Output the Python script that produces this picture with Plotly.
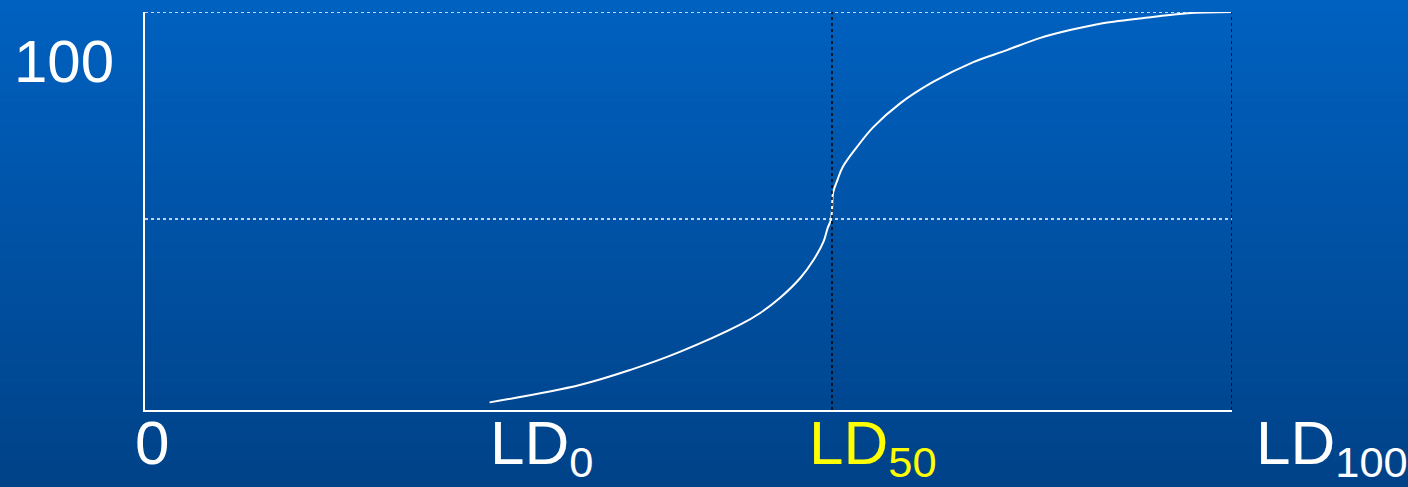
import plotly.graph_objects as go

# ---- data ----
dose = [31.7, 40.0, 44.6, 49.2, 54.7, 56.6, 58.4, 60.3, 61.5, 62.4, 62.8,
        63.1, 63.2, 63.3, 63.7, 64.2, 65.5, 67.0, 69.5, 72.5, 76.2, 79.3,
        82.3, 85.2, 88.1, 92.7, 95.9, 100.0]
mortality = [5.7, 9.9, 13.5, 17.9, 24.4, 27.3, 30.9, 35.8, 40.1, 44.4, 47.8,
             49.8, 52.2, 56.3, 59.4, 62.6, 67.4, 72.2, 78.0, 83.1, 87.9, 90.8,
             93.7, 95.7, 97.3, 98.8, 99.7, 100.0]

tick_values = [0, 31.7, 63.2, 100.0]
tick_labels = ["0", "LD<sub>0</sub>", "LD<sub>50</sub>", "LD<sub>100</sub>"]
tick_colors = ["white", "white", "#FFFF00", "white"]
y_label_value = 100
y_label = "100"
half_level = 50

W, H = 1408, 487
x_px = (145, 1232)
y_px = (12, 410)
y_min = 3.86

fig = go.Figure()

# gradient background
top = (0, 97, 192)
bot = (0, 66, 136)
n = 80
for i in range(n):
    t = i / (n - 1)
    c = tuple(round(top[k] + (bot[k] - top[k]) * t) for k in range(3))
    fig.add_shape(type="rect", xref="paper", yref="paper",
                  x0=0, x1=1, y0=1 - (i + 1) / n, y1=1 - i / n + 0.002,
                  fillcolor="rgb(%d,%d,%d)" % c, line_width=0, layer="below")

fig.add_trace(go.Scatter(x=dose, y=mortality, mode="lines",
                         line=dict(color="white", width=2, shape="spline", smoothing=1.0),
                         hoverinfo="skip", showlegend=False))

# reference lines
for yv in (half_level, y_label_value):
    fig.add_shape(type="line", xref="x", yref="y", x0=0, x1=tick_values[-1],
                  y0=yv, y1=yv, line=dict(color="white", width=1.5, dash="dot"))
for xv in (tick_values[2], tick_values[3]):
    fig.add_shape(type="line", xref="x", yref="y", x0=xv, x1=xv,
                  y0=y_min, y1=y_label_value, line=dict(color="black", width=1.5, dash="dot"))

# tick labels
shifts = [7, -2, -25, 22]
for i, (v, lab, col) in enumerate(zip(tick_values, tick_labels, tick_colors)):
    fig.add_annotation(x=v, y=y_min, xref="x", yref="y",
                       xanchor="center" if i == 0 else "left", yanchor="top",
                       xshift=shifts[i], yshift=4,
                       text=lab, showarrow=False,
                       font=dict(family="Liberation Sans, Arial", size=62, color=col))
fig.add_annotation(x=0, y=y_label_value, xref="paper", yref="y",
                   xanchor="left", yanchor="middle", xshift=12, yshift=-49,
                   text=y_label, showarrow=False,
                   font=dict(family="Liberation Sans, Arial", size=60, color="white"))

fig.update_layout(
    width=W, height=H,
    margin=dict(l=0, r=0, t=0, b=0),
    paper_bgcolor="rgb(0,66,136)",
    plot_bgcolor="rgba(0,0,0,0)",
    xaxis=dict(domain=[x_px[0] / W, x_px[1] / W], range=[0, 100],
               showgrid=False, zeroline=False, showticklabels=False, ticks="",
               showline=True, linecolor="white", linewidth=2, mirror=False),
    yaxis=dict(domain=[(H - y_px[1]) / H, (H - y_px[0]) / H], range=[y_min, 100],
               showgrid=False, zeroline=False, showticklabels=False, ticks="",
               showline=True, linecolor="white", linewidth=2, mirror=False),
)

fig.write_html("out.html", config={"displayModeBar": False},
               post_script="document.body.style.margin='0';document.body.style.overflow='hidden';")
